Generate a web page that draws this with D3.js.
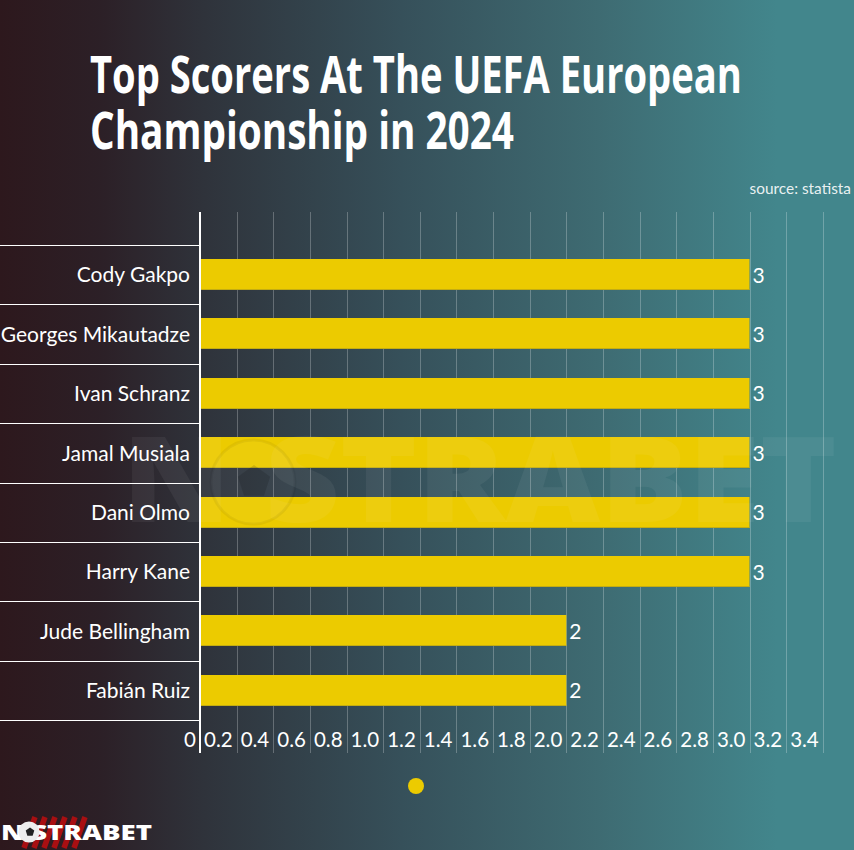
<!DOCTYPE html>
<html>
<head>
<meta charset="utf-8">
<script src="https://cdn.jsdelivr.net/npm/d3@7"></script>
<style>
  html, body { margin: 0; padding: 0; background: #2c1a1f; }
  svg { display: block; }
  text { font-family: Lato, "Open Sans", sans-serif; fill: #fff; }
</style>
</head>
<body>
<script>
const players = ['Cody Gakpo', 'Georges Mikautadze', 'Ivan Schranz', 'Jamal Musiala', 'Dani Olmo', 'Harry Kane', 'Jude Bellingham', 'Fabián Ruiz'];
const goals = [3, 3, 3, 3, 3, 3, 2, 2];
const xTicks = [0, 0.2, 0.4, 0.6, 0.8, 1.0, 1.2, 1.4, 1.6, 1.8, 2.0, 2.2, 2.4, 2.6, 2.8, 3.0, 3.2, 3.4];
const titleLines = ['Top Scorers At The UEFA European', 'Championship in 2024'];
const titleWidths = [652, 424];

const width = 854, height = 850;
const yellow = '#eccb00';

const svg = d3.select('body').append('svg')
  .attr('width', width)
  .attr('height', height);

// squeeze a text to a given width, the fonts here have no narrow cut
function fitWidth(sel, w, px, py) {
  const len = sel.node().getComputedTextLength();
  sel.attr('transform', `translate(${px},${py}) scale(${w / len},1)`);
}

// background gradient
const defs = svg.append('defs');
const grad = defs.append('linearGradient').attr('id', 'bg')
  .attr('x1', '0%').attr('y1', '0%').attr('x2', '100%').attr('y2', '0%');
grad.append('stop').attr('offset', '0%').attr('stop-color', '#2d181d');
grad.append('stop').attr('offset', '12%').attr('stop-color', '#2c2027');
grad.append('stop').attr('offset', '24%').attr('stop-color', '#2f333b');
grad.append('stop').attr('offset', '47%').attr('stop-color', '#36505a');
grad.append('stop').attr('offset', '70%').attr('stop-color', '#3e6b72');
grad.append('stop').attr('offset', '91%').attr('stop-color', '#42868c');
grad.append('stop').attr('offset', '100%').attr('stop-color', '#42868c');
svg.append('rect').attr('width', width).attr('height', height).attr('fill', 'url(#bg)');

// title
titleLines.forEach((line, i) => {
  const t = svg.append('text')
    .attr('font-size', 52)
    .attr('font-weight', 700)
    .style('font-family', '"Open Sans", sans-serif')
    .text(line);
  fitWidth(t, titleWidths[i], 90, 93 + i * 56);
});

svg.append('text')
  .attr('x', 851).attr('y', 194)
  .attr('text-anchor', 'end')
  .attr('font-size', 15.4)
  .attr('fill-opacity', 0.9)
  .text('source: statista');

// scales
const x = d3.scaleLinear().domain([0, 3]).range([200, 749.5]);
const y = d3.scaleBand().domain(players).range([245, 720]).paddingInner(0.475).paddingOuter(0.2375);

// grid
svg.append('g').selectAll('line').data(xTicks.slice(1)).join('line')
  .attr('x1', d => Math.round(x(d)) + 0.5).attr('x2', d => Math.round(x(d)) + 0.5)
  .attr('y1', 212).attr('y2', 753)
  .attr('stroke', '#fff').attr('stroke-opacity', 0.25).attr('stroke-width', 1);

// bars
svg.append('g').selectAll('rect').data(players).join('rect')
  .attr('x', x(0))
  .attr('y', d => Math.round(y(d)))
  .attr('width', (d, i) => x(goals[i]) - x(0))
  .attr('height', Math.round(y.bandwidth()))
  .attr('fill', yellow);

// thin darker edge under each bar
svg.append('g').selectAll('rect').data(players).join('rect')
  .attr('x', x(0))
  .attr('y', d => Math.round(y(d)) + Math.round(y.bandwidth()) - 1)
  .attr('width', (d, i) => x(goals[i]) - x(0))
  .attr('height', 1)
  .attr('fill', '#c4ad12');

// bar value labels
svg.append('g').selectAll('text').data(players).join('text')
  .attr('x', (d, i) => x(goals[i]) + 3)
  .attr('y', d => y(d) + y.bandwidth() / 2 + 8)
  .attr('font-size', 21)
  .text((d, i) => goals[i]);

// category axis
const yAxis = d3.axisLeft(y).tickSize(0).tickPadding(10);
const yG = svg.append('g').attr('transform', `translate(${x(0)},1)`).call(yAxis);
yG.select('.domain').remove();
yG.selectAll('text').attr('font-size', 21).style('font-family', null).attr('fill', '#fff');

// separators at the band edges
const bandStep = y.step();
svg.append('g').selectAll('line').data(d3.range(players.length + 1)).join('line')
  .attr('x1', 0).attr('x2', x(0))
  .attr('y1', d => Math.round(245 + d * bandStep) + 0.5).attr('y2', d => Math.round(245 + d * bandStep) + 0.5)
  .attr('stroke', '#fff').attr('stroke-width', 1);

// value axis: labels sit to the left of their tick
const xAxis = d3.axisBottom(x).tickValues(xTicks).tickSize(0).tickPadding(0)
  .tickFormat(d => d === 0 ? '0' : d3.format('.1f')(d));
const xG = svg.append('g').attr('transform', 'translate(0,726)').call(xAxis);
xG.select('.domain').remove();
xG.selectAll('text')
  .attr('text-anchor', 'end')
  .attr('x', -4.5)
  .attr('y', 0)
  .attr('dy', '1em')
  .attr('font-size', 20.5)
  .style('font-family', null)
  .attr('fill', '#fff');

svg.append('line')
  .attr('x1', x(0)).attr('x2', x(0))
  .attr('y1', 212).attr('y2', 753)
  .attr('stroke', '#fff').attr('stroke-width', 2);

// legend dot
svg.append('circle').attr('cx', 416).attr('cy', 786).attr('r', 8).attr('fill', yellow);

// watermark
const mark = svg.append('g');
const markText = mark.append('text')
  .attr('font-size', 118)
  .attr('font-weight', 800)
  .attr('fill-opacity', 0.055)
  .style('font-family', '"Open Sans", sans-serif')
  .text('N  STRABET');
fitWidth(markText, 715, 122, 522);
mark.append('circle').attr('cx', 253).attr('cy', 482).attr('r', 42)
  .attr('fill', '#fff').attr('fill-opacity', 0.04)
  .attr('stroke', '#000').attr('stroke-opacity', 0.05).attr('stroke-width', 3);
mark.append('path')
  .attr('transform', 'translate(254,482)')
  .attr('d', d3.lineRadial().curve(d3.curveLinearClosed)
    .angle(d => d * 2 * Math.PI / 5).radius(17)(d3.range(5)))
  .attr('fill', '#000').attr('fill-opacity', 0.13);

// logo, bottom left
const logo = svg.append('g');
logo.append('g').selectAll('line').data(d3.range(6)).join('line')
  .attr('x1', d => 24 + d * 10).attr('y1', 848)
  .attr('x2', d => 35 + d * 10).attr('y2', 817)
  .attr('stroke', '#a80f12').attr('stroke-width', 5.5);
const logoText = logo.append('text')
  .attr('font-size', 21)
  .attr('font-weight', 800)
  .style('font-family', '"Open Sans", sans-serif')
  .text('N  STRABET');
fitWidth(logoText, 151, 1, 840);
logo.append('circle').attr('cx', 29).attr('cy', 832).attr('r', 10.5).attr('fill', '#eee');
logo.append('path')
  .attr('transform', 'translate(30,832)')
  .attr('d', d3.lineRadial().curve(d3.curveLinearClosed)
    .angle(d => d * 2 * Math.PI / 5).radius(4.5)(d3.range(5)))
  .attr('fill', '#222');
</script>
</body>
</html>
